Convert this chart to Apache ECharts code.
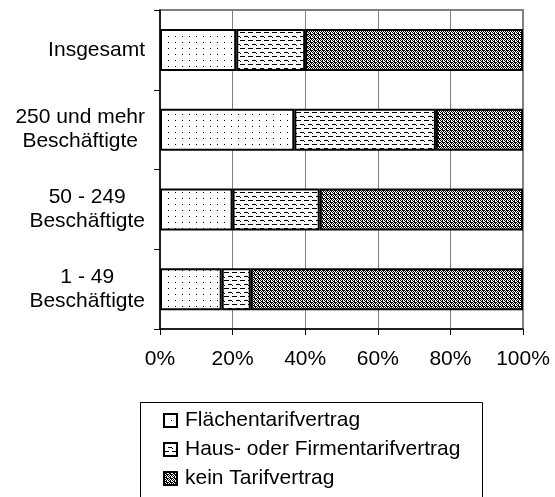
<!DOCTYPE html>
<html lang="de">

<head>
    <meta charset="UTF-8">
    <title>Tarifbindung nach Betriebsgröße</title>
    <script src="https://cdn.jsdelivr.net/npm/echarts@6/dist/echarts.min.js"></script>
    <style>
        html, body { margin: 0; padding: 0; background: #fff; }
    </style>
</head>

<body>
    <div id="main" style="width: 555px; height: 497px;"></div>
    <script type="text/javascript">
        // categories (top to bottom) and shares in percent
        const categories = ['Insgesamt', '250 und mehr\nBeschäftigte', '50 - 249\nBeschäftigte', '1 - 49\nBeschäftigte'];
        const flaechentarif = [21, 37, 20, 17];
        const haustarif = [19, 39, 24, 8];
        const keinTarif = [60, 24, 56, 75];
        const seriesNames = ['Flächentarifvertrag', 'Haus- oder Firmentarifvertrag', 'kein Tarifvertrag'];
        const xTicks = [0, 20, 40, 60, 80, 100];

        const font = "'Liberation Sans', Arial, sans-serif";
        const fontSize = 21;

        // small black/white tiles to imitate the print hatch patterns
        function makeTile(rows) {
            const c = document.createElement('canvas');
            c.width = rows[0].length;
            c.height = rows.length;
            const ctx = c.getContext('2d');
            ctx.fillStyle = '#fff';
            ctx.fillRect(0, 0, c.width, c.height);
            ctx.fillStyle = '#000';
            rows.forEach((row, y) => {
                for (let x = 0; x < row.length; x++) {
                    if (row[x] === '#') ctx.fillRect(x, y, 1, 1);
                }
            });
            return { image: c, repeat: 'repeat' };
        }

        const dots = makeTile([
            '#......',
            '.......',
            '.......',
            '.......',
            '.......',
            '.......'
        ]);
        const dashes = makeTile([
            '#####...',
            '........',
            '........',
            '........',
            '....####',
            '#.......',
            '........',
            '........'
        ]);
        const speckle = makeTile([
            '#.#.',
            '.##.',
            '#.##',
            '.#.#'
        ]);

        const patterns = [dots, dashes, speckle];
        const values = [flaechentarif, haustarif, keinTarif];

        let myChart = echarts.init(document.getElementById('main'));

        const options = {
            animation: false,
            textStyle: { fontFamily: font, color: '#000' },
            grid: {
                left: 160, right: 32, top: 10, bottom: 168,
                show: true, borderColor: '#808080', borderWidth: 2,
                containLabel: false
            },
            // frame round the legend; it runs past the bottom edge like in the original
            graphic: [{
                type: 'rect',
                left: 138, top: 400,
                shape: { width: 342, height: 130 },
                style: { fill: 'none', stroke: '#000', lineWidth: 1 },
                silent: true
            }],
            legend: {
                orient: 'vertical',
                left: 163,
                top: 410,
                padding: 0,
                itemWidth: 13,
                itemHeight: 13,
                itemGap: 8,
                icon: 'rect',
                itemStyle: { borderColor: '#000', borderWidth: 2 },
                textStyle: { fontSize: fontSize, color: '#000', fontFamily: font, padding: [0, 0, 0, 3] },
                data: seriesNames
            },
            xAxis: {
                type: 'value',
                min: xTicks[0],
                max: xTicks[xTicks.length - 1],
                interval: 20,
                axisLine: { show: true, lineStyle: { color: '#000', width: 1.5 } },
                axisTick: { show: true, length: 6, lineStyle: { color: '#000' } },
                axisLabel: { formatter: '{value}%', fontSize: fontSize, color: '#000', margin: 20 },
                splitLine: { show: true, lineStyle: { color: '#808080', width: 1 } }
            },
            yAxis: {
                type: 'category',
                inverse: true,
                data: categories,
                axisLine: { show: true, lineStyle: { color: '#000', width: 1.5 } },
                axisTick: { show: true, length: 6, lineStyle: { color: '#000' } },
                axisLabel: {
                    margin: 15,
                    align: 'right',
                    lineHeight: 24,
                    formatter: (v) => v.split('\n').map(l => '{c|' + l + '}').join('\n'),
                    rich: { c: { align: 'center', fontSize: fontSize, color: '#000', fontFamily: font, lineHeight: 24 } }
                }
            },
            series: seriesNames.map((name, i) => ({
                name: name,
                type: 'bar',
                stack: 'total',
                barWidth: 42,
                data: values[i],
                itemStyle: { color: patterns[i], borderColor: '#000', borderWidth: 2 }
            }))
        };

        myChart.setOption(options);
    </script>
</body>

</html>
